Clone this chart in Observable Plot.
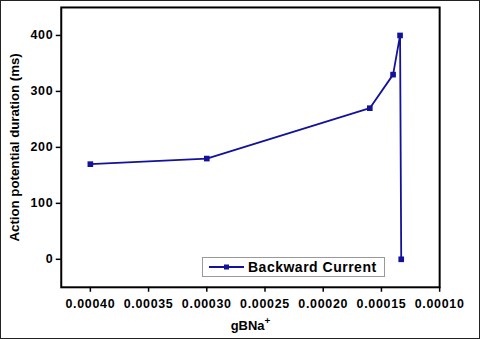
<!DOCTYPE html>
<html><head><meta charset="utf-8">
<script src="https://cdn.jsdelivr.net/npm/d3@7"></script>
<script src="https://cdn.jsdelivr.net/npm/@observablehq/plot@0.6"></script>
<style>
body{margin:0;background:#fff;}
#wrap{position:relative;width:478px;height:337px;border:1px solid #222;overflow:hidden;}
#legend{position:absolute;left:201px;top:256px;width:181px;height:18px;border:1px solid #999;background:#fff;
 font:bold 14px "Liberation Sans",Arial,sans-serif;letter-spacing:0.5px;display:flex;align-items:center;}
.tk text{letter-spacing:0.7px;}
</style></head>
<body><div id="wrap"><div id="legend"></div></div>
<script>
const gBNa = [0.00040, 0.00030, 0.00016, 0.000140, 0.000134, 0.000133];
const apd = [170, 180, 270, 330, 400, 0];
const xTicks = [0.00040, 0.00035, 0.00030, 0.00025, 0.00020, 0.00015, 0.00010];
const yTicks = [0, 100, 200, 300, 400];
const seriesName = "Backward Current";
const color = "#12129a";

const data = gBNa.map((x, i) => ({x, y: apd[i]}));

const plot = Plot.plot({
  width: 480, height: 339,
  marginLeft: 61, marginRight: 39, marginTop: 7, marginBottom: 51,
  style: {fontFamily: '"Liberation Sans", Arial, sans-serif', fontWeight: "bold", fontSize: "12px", color: "#000", background: "transparent", overflow: "visible"},
  x: {domain: [0.000425, 0.0001]},
  y: {domain: [-50, 450]},
  marks: [
    Plot.frame({stroke: "#000", strokeWidth: 2}),
    Plot.axisX({ticks: xTicks, tickFormat: d => d.toFixed(5), tickSize: 5, tickPadding: 7, strokeWidth: 1.5, fontSize: 12.5, label: null, className: "tk"}),
    Plot.axisY({ticks: yTicks, tickSize: 5, tickPadding: 3, strokeWidth: 1.5, fontSize: 12.5, label: null, className: "tk"}),
    Plot.axisX({ticks: [], label: "gBNa", labelArrow: "none", labelAnchor: "center", labelOffset: 43, tickSize: 0, fontSize: 13}),
    Plot.axisY({ticks: [], label: "Action potential duration (ms)", labelArrow: "none", labelAnchor: "center", labelOffset: 52, tickSize: 0, fontSize: 13.3}),
    Plot.line(data, {x: "x", y: "y", stroke: color, strokeWidth: 1.8}),
    Plot.dot(data, {x: "x", y: "y", symbol: "square", fill: color, r: 3.2})
  ]
});
const wrap = document.getElementById("wrap");
plot.style.position = "absolute"; plot.style.left = "-1px"; plot.style.top = "-1px";
wrap.insertBefore(plot, wrap.firstChild);
// superscript plus on x label
d3.select(plot).selectAll("text").filter(function(){return this.textContent.trim()==="gBNa";}).each(function(){
  const t = d3.select(this);
  t.text("gBNa");
  t.append("tspan").attr("dy","-6").attr("font-size","10px").text("+");
});
// legend
const lg = d3.select("#legend");
const s = lg.append("svg").attr("width", 44).attr("height", 18);
s.append("line").attr("x1",6).attr("x2",41).attr("y1",9).attr("y2",9).attr("stroke",color).attr("stroke-width",1.8);
s.append("rect").attr("x",21).attr("y",6.5).attr("width",5).attr("height",5).attr("fill",color);
lg.append("span").text(seriesName).style("margin-left","1px");
</script></body></html>
